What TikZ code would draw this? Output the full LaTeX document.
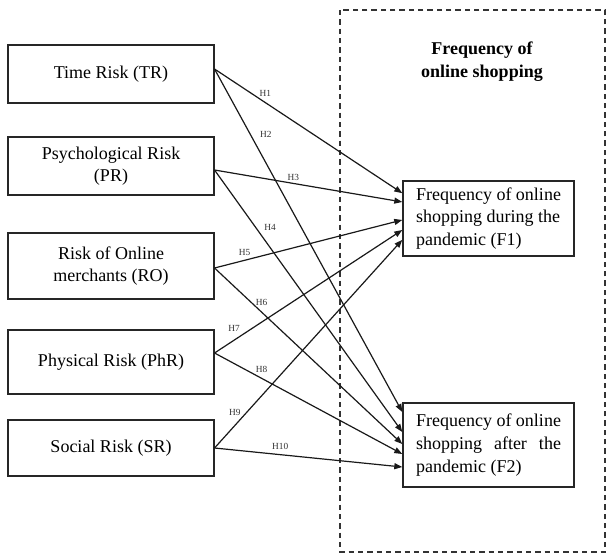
\documentclass[tikz,border=0pt]{standalone}
\usepackage{fontspec}
\setmainfont{Liberation Serif}
\usepackage{calc}
\usetikzlibrary{arrows.meta, positioning}

\begin{document}
\begin{tikzpicture}[x=0.75pt, y=-0.75pt,
  risk/.style={rectangle, draw=black!85, line width=1.3pt, minimum width=154pt, align=center, font=\fontsize{13.5}{17}\selectfont},
  freq/.style={rectangle, draw=black!85, line width=1.3pt, minimum width=128pt, align=left, font=\fontsize{13.5}{17}\selectfont},
  hyp/.style={-{Triangle[length=6pt,width=4.5pt]}, line width=0.9pt, black!90},
  hlabel/.style={font=\fontsize{7}{8}\selectfont, text=black!80, inner sep=1pt}
]
  \useasboundingbox (0,0) rectangle (608,558);
  \draw[dashed, dash pattern=on 4pt off 3pt, line width=0.9pt, black!80] (340,10) rectangle (605,552);
  \node[font=\bfseries\fontsize{13.5}{17.3}\selectfont, align=center] (title) at (482,62) {Frequency of\\online shopping};

  \node[risk, minimum height=43.5pt] (tr) at (111,74) {Time Risk (TR)};
  \node[risk, minimum height=43.5pt] (pr) at (111,166) {Psychological Risk\\(PR)};
  \node[risk, minimum height=49.5pt] (ro) at (111,266) {Risk of Online\\merchants (RO)};
  \node[risk, minimum height=48pt] (phr) at (111,362) {Physical Risk (PhR)};
  \node[risk, minimum height=42pt] (sr) at (111,448) {Social Risk (SR)};

  \node[freq, minimum height=56pt] (f1) at (488.5,218.5) {Frequency of online\\shopping during the\\pandemic (F1)};
  \node[freq, minimum height=63pt] (f2) at (488.5,445) {Frequency of online\\\makebox[\widthof{Frequency of online}][s]{shopping after the}\\pandemic (F2)};

  \draw[hyp] ([yshift=3.75pt]tr.east) -- node[hlabel, pos=0.27, above=3pt] {H1} ([yshift=19pt]f1.west);
  \draw[hyp] ([yshift=3.75pt]tr.east) -- node[hlabel, pos=0.19, right=6pt] {H2} ([yshift=24.75pt]f2.west);
  \draw[hyp] ([yshift=-3pt]pr.east) -- node[hlabel, pos=0.42, above=1pt] {H3} ([yshift=12.4pt]f1.west);
  \draw[hyp] ([yshift=-3pt]pr.east) -- node[hlabel, pos=0.22, right=5pt] {H4} ([yshift=9.75pt]f2.west);
  \draw[hyp] ([yshift=-1.5pt]ro.east) -- node[hlabel, pos=0.16, above=2pt] {H5} ([yshift=-1.1pt]f1.west);
  \draw[hyp] ([yshift=-1.5pt]ro.east) -- node[hlabel, pos=0.25, above=3pt] {H6} ([yshift=0.75pt]f2.west);
  \draw[hyp] ([yshift=6.75pt]phr.east) -- node[hlabel, pos=0.15, above left=1pt] {H7} ([yshift=-8.6pt]f1.west);
  \draw[hyp] ([yshift=6.75pt]phr.east) -- node[hlabel, pos=0.25, above=3pt] {H8} ([yshift=-6.75pt]f2.west);
  \draw[hyp] (sr.east) -- node[hlabel, pos=0.17, left=3pt] {H9} ([yshift=-16pt]f1.west);
  \draw[hyp] (sr.east) -- node[hlabel, pos=0.35, above=2pt] {H10} ([yshift=-16.5pt]f2.west);
\end{tikzpicture}
\end{document}
